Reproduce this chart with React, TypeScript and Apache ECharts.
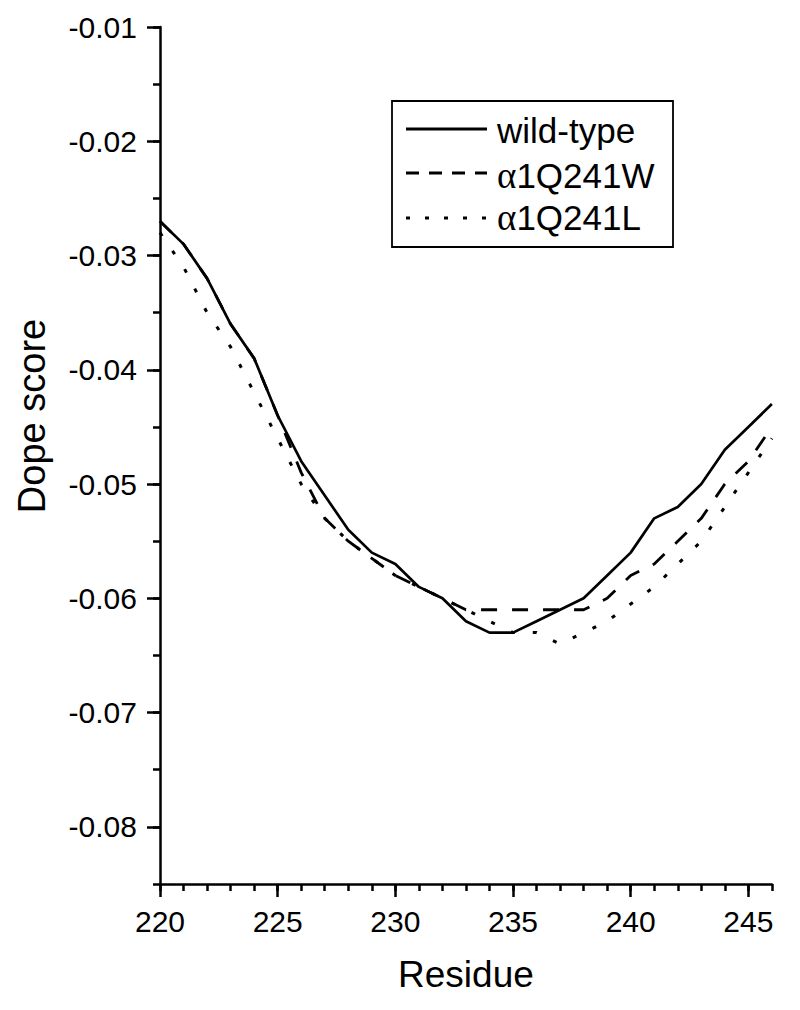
import React, { useEffect, useRef } from "react";
import * as echarts from "echarts";

const residues = [220, 221, 222, 223, 224, 225, 226, 227, 228, 229, 230, 231, 232, 233, 234, 235, 236, 237, 238, 239, 240, 241, 242, 243, 244, 245, 246];
const wildType = [-0.027, -0.029, -0.032, -0.036, -0.039, -0.044, -0.048, -0.051, -0.054, -0.056, -0.057, -0.059, -0.060, -0.062, -0.063, -0.063, -0.062, -0.061, -0.060, -0.058, -0.056, -0.053, -0.052, -0.050, -0.047, -0.045, -0.043];
const q241W = [-0.027, -0.029, -0.032, -0.036, -0.039, -0.044, -0.049, -0.053, -0.055, -0.0565, -0.058, -0.059, -0.060, -0.061, -0.061, -0.061, -0.061, -0.061, -0.061, -0.060, -0.058, -0.057, -0.055, -0.053, -0.050, -0.048, -0.045];
const q241L = [-0.028, -0.031, -0.035, -0.038, -0.042, -0.046, -0.050, -0.053, -0.055, -0.0565, -0.058, -0.059, -0.060, -0.061, -0.062, -0.063, -0.063, -0.064, -0.063, -0.062, -0.0605, -0.059, -0.057, -0.055, -0.052, -0.049, -0.046];
const seriesNames = ["wild-type", "α1Q241W", "α1Q241L"];
const xTitle = "Residue";
const yTitle = "Dope score";

const FONT = "'Liberation Sans', Arial, sans-serif";

export default function App() {
  const ref = useRef<HTMLDivElement>(null);
  useEffect(() => {
    if (!ref.current) return;
    const chart = echarts.init(ref.current, null, { renderer: "svg" });
    const pts = (arr: number[]) => residues.map((r, i) => [r, arr[i]]);
    const left = 160;
    const top = 27;
    const width = 611.9;
    const height = 857;
    const h2 = height * (0.07 / 0.075);
    const w3 = width * (25 / 26);
    const axisLineStyle = { color: "#000", width: 2.5 };
    const legendRows = [
      { y: 129, ty: 130, dash: null as number[] | null, label: "wild-type" },
      { y: 173, ty: 175, dash: [13, 10], label: "{a|α}1Q241W" },
      { y: 218, ty: 217, dash: [4, 15], label: "{a|α}1Q241L" },
    ];
    const graphic: any[] = [
      {
        type: "rect",
        shape: { x: 392, y: 101, width: 281, height: 146 },
        style: { fill: "transparent", stroke: "#000", lineWidth: 1.8 },
      },
      {
        type: "text",
        x: 32,
        y: 416,
        rotation: Math.PI / 2,
        style: {
          text: yTitle,
          fontSize: 38,
          fontFamily: FONT,
          fill: "#000",
          align: "center",
          verticalAlign: "middle",
        },
      },
    ];
    legendRows.forEach((r) => {
      graphic.push({
        type: "line",
        shape: { x1: 406, y1: r.y, x2: 487, y2: r.y },
        style: { stroke: "#000", lineWidth: 2.8, lineDash: r.dash || undefined },
      });
      graphic.push({
        type: "text",
        x: 497,
        y: r.ty,
        style: {
          text: r.label,
          fontSize: 35,
          fontFamily: FONT,
          fill: "#000",
          verticalAlign: "middle",
          rich: { a: { fontSize: 37, fontFamily: "'Liberation Serif', 'Times New Roman', serif", fill: "#000" } },
        },
      });
    });

    chart.setOption({
      animation: false,
      backgroundColor: "#fff",
      textStyle: { fontFamily: FONT, color: "#000" },
      grid: [
        { left, top, width, height },
        { left, top, width, height: h2 },
        { left, top, width: w3, height },
      ],
      xAxis: [
        {
          type: "value",
          gridIndex: 0,
          min: 220,
          max: 246,
          interval: 1,
          axisLine: { show: true, onZero: false, lineStyle: axisLineStyle },
          axisTick: { show: true, length: 7, lineStyle: axisLineStyle },
          axisLabel: { show: false },
          splitLine: { show: false },
          name: xTitle,
          nameLocation: "middle",
          nameGap: 72,
          nameTextStyle: { fontSize: 37, color: "#000", fontFamily: FONT },
        },
        { type: "value", gridIndex: 1, min: 220, max: 246, show: false },
        {
          type: "value",
          gridIndex: 2,
          min: 220,
          max: 245,
          interval: 5,
          axisLine: { show: false, onZero: false },
          axisTick: { show: true, length: 13, lineStyle: axisLineStyle },
          axisLabel: { show: true, fontSize: 30, color: "#000", fontFamily: FONT, margin: 22 },
          splitLine: { show: false },
        },
      ],
      yAxis: [
        {
          type: "value",
          gridIndex: 0,
          min: -0.085,
          max: -0.01,
          interval: 0.005,
          axisLine: { show: true, onZero: false, lineStyle: axisLineStyle },
          axisTick: { show: true, length: 7, lineStyle: axisLineStyle },
          axisLabel: { show: false },
          splitLine: { show: false },
        },
        {
          type: "value",
          gridIndex: 1,
          min: -0.08,
          max: -0.01,
          interval: 0.01,
          axisLine: { show: false, onZero: false },
          axisTick: { show: true, length: 13, lineStyle: axisLineStyle },
          axisLabel: {
            show: true,
            fontSize: 30,
            color: "#000",
            fontFamily: FONT,
            margin: 23,
            formatter: (v: number) => v.toFixed(2),
          },
          splitLine: { show: false },
        },
        { type: "value", gridIndex: 2, min: -0.085, max: -0.01, show: false },
      ],
      series: [
        {
          name: seriesNames[2],
          type: "line",
          xAxisIndex: 0,
          yAxisIndex: 0,
          data: pts(q241L),
          showSymbol: false,
          symbol: "none",
          lineStyle: { color: "#000", width: 3, type: [4, 18] },
        },
        {
          name: seriesNames[1],
          type: "line",
          xAxisIndex: 0,
          yAxisIndex: 0,
          data: pts(q241W),
          showSymbol: false,
          symbol: "none",
          lineStyle: { color: "#000", width: 2.8, type: [16, 15] },
        },
        {
          name: seriesNames[0],
          type: "line",
          xAxisIndex: 0,
          yAxisIndex: 0,
          data: pts(wildType),
          showSymbol: false,
          symbol: "none",
          lineStyle: { color: "#000", width: 2.7, type: "solid" },
        },
      ],
      graphic,
    });
    return () => chart.dispose();
  }, []);
  return (
    <div
      ref={ref}
      style={{ position: "fixed", left: 0, top: 0, width: 800, height: 1010, background: "#fff" }}
    />
  );
}
